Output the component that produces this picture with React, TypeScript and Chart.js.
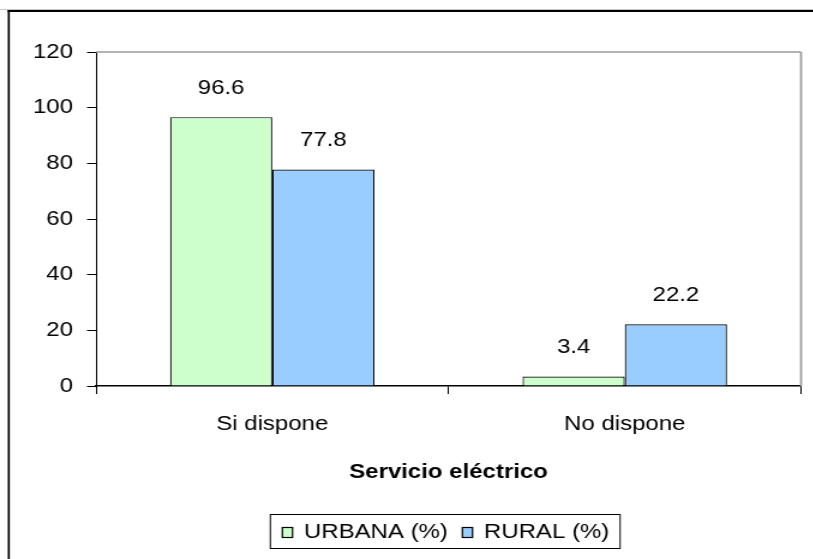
import React, { useEffect, useRef } from "react";
import { Chart, registerables } from "chart.js";

Chart.register(...registerables);

const categories = ["Si dispone", "No dispone"];
const seriesLabels = ["URBANA (%)", "RURAL (%)"];
const urbanaValues = [96.6, 3.4];
const ruralValues = [77.8, 22.2];
const seriesColors = ["#CCFFCC", "#99CCFF"];
const yMin = 0;
const yMax = 120;
const yStep = 20;
const xTitle = "Servicio eléctrico";

const FONT = "'Liberation Sans', Arial, sans-serif";
const STRETCH = 1.2;
const CW = 678;
const CH = 559;

const framePlugin = {
  id: "framePlugin",
  beforeDraw(chart: any) {
    const ctx = chart.ctx;
    ctx.save();
    ctx.fillStyle = "#ffffff";
    ctx.fillRect(0, 0, chart.width, chart.height);
    ctx.strokeStyle = "#c8c8c8";
    ctx.lineWidth = 1;
    ctx.beginPath();
    ctx.moveTo(0, 9.5);
    ctx.lineTo(chart.width, 9.5);
    ctx.stroke();
    ctx.strokeStyle = "#000";
    ctx.lineWidth = 2;
    ctx.beginPath();
    ctx.moveTo(6.3, 11);
    ctx.lineTo(chart.width, 11);
    ctx.stroke();
    ctx.lineWidth = 1.7;
    ctx.beginPath();
    ctx.moveTo(7.3, 10);
    ctx.lineTo(7.3, chart.height);
    ctx.stroke();
    ctx.restore();
  },
  beforeDatasetsDraw(chart: any) {
    const { ctx, chartArea } = chart;
    ctx.save();
    ctx.strokeStyle = "#9a9a9a";
    ctx.lineWidth = 1.5;
    ctx.beginPath();
    ctx.moveTo(chartArea.left, chartArea.top);
    ctx.lineTo(chartArea.right, chartArea.top);
    ctx.stroke();
    ctx.lineWidth = 1.7;
    ctx.beginPath();
    ctx.moveTo(chartArea.right, chartArea.top);
    ctx.lineTo(chartArea.right, chartArea.bottom);
    ctx.stroke();
    ctx.restore();
  },
};

const labelPlugin = {
  id: "labelPlugin",
  afterDatasetsDraw(chart: any) {
    const ctx = chart.ctx;
    ctx.save();
    ctx.font = `20px ${FONT}`;
    ctx.fillStyle = "#000";
    ctx.textAlign = "center";
    ctx.textBaseline = "middle";
    chart.data.datasets.forEach((ds: any, i: number) => {
      const meta = chart.getDatasetMeta(i);
      meta.data.forEach((el: any, j: number) => {
        ctx.fillText(Number(ds.data[j]).toFixed(1), el.x, el.y - 29);
      });
    });
    ctx.restore();
  },
};

const legendPlugin = {
  id: "boxLegend",
  afterDraw(chart: any) {
    const ctx = chart.ctx;
    ctx.save();
    ctx.font = `20px ${FONT}`;
    const ds = chart.data.datasets;
    const padL = 10;
    const sw = 8.5;
    const gap = 9.5;
    const itemGap = 12;
    const padR = 9;
    const widths = ds.map((d: any) => ctx.measureText(d.label).width);
    let total = padL + padR;
    widths.forEach((w: number, i: number) => {
      total += sw + gap + w + (i < widths.length - 1 ? itemGap : 0);
    });
    const cx = 371;
    const top = 514;
    const bottom = 548;
    const left = cx - total / 2;
    ctx.strokeStyle = "#000";
    ctx.lineWidth = 1;
    ctx.fillStyle = "#fff";
    ctx.fillRect(left, top, total, bottom - top);
    ctx.strokeRect(left, top + 0.5, total, bottom - top);
    const my = (top + bottom) / 2 + 1.5;
    let x = left + padL;
    ds.forEach((d: any, i: number) => {
      ctx.fillStyle = d.backgroundColor;
      ctx.fillRect(x, my - 5, sw, 10);
      ctx.lineWidth = 1.2;
      ctx.strokeStyle = "#000";
      ctx.strokeRect(x, my - 5, sw, 10);
      x += sw + gap;
      ctx.fillStyle = "#000";
      ctx.textAlign = "left";
      ctx.textBaseline = "middle";
      ctx.fillText(d.label, x, my);
      x += widths[i] + itemGap;
    });
    ctx.restore();
  },
};

export default function App() {
  const ref = useRef<HTMLCanvasElement | null>(null);
  useEffect(() => {
    const canvas = ref.current;
    if (!canvas) return;
    canvas.width = CW;
    canvas.height = CH;
    const chart = new Chart(canvas, {
      type: "bar",
      data: {
        labels: categories,
        datasets: [
          {
            label: seriesLabels[0],
            data: urbanaValues,
            backgroundColor: seriesColors[0],
            borderColor: "#000",
            borderWidth: 1.2,
            categoryPercentage: 0.58,
            barPercentage: 1,
          },
          {
            label: seriesLabels[1],
            data: ruralValues,
            backgroundColor: seriesColors[1],
            borderColor: "#000",
            borderWidth: 1.2,
            categoryPercentage: 0.58,
            barPercentage: 1,
          },
        ],
      },
      options: {
        responsive: false,
        animation: false,
        devicePixelRatio: 1,
        layout: { padding: { left: 0, right: 10.5, top: 52, bottom: 75 } },
        plugins: {
          legend: { display: false },
          tooltip: { enabled: false },
          title: { display: false },
        },
        scales: {
          x: {
            afterFit: (s: any) => {
              s.height = 98;
            },
            grid: {
              offset: true,
              drawOnChartArea: false,
              drawTicks: true,
              tickLength: 8,
              color: "#000",
              lineWidth: 1,
            },
            border: { display: true, color: "#000", width: 1.5 },
            ticks: {
              color: "#000",
              padding: 18,
              font: { family: FONT, size: 20 },
              maxRotation: 0,
            },
            title: {
              display: true,
              text: xTitle,
              color: "#000",
              padding: 0,
              font: { family: FONT, size: 20, weight: "bold" },
            },
          },
          y: {
            min: yMin,
            max: yMax,
            afterFit: (s: any) => {
              s.width = 80;
            },
            grid: {
              drawOnChartArea: false,
              drawTicks: true,
              tickLength: 7.5,
              color: "#000",
              lineWidth: 1,
            },
            border: { display: true, color: "#000", width: 1 },
            ticks: {
              stepSize: yStep,
              color: "#000",
              padding: 11.7,
              font: { family: FONT, size: 20 },
            },
          },
        },
      },
      plugins: [framePlugin, labelPlugin, legendPlugin],
    });
    return () => chart.destroy();
  }, []);
  return (
    <div
      style={{
        position: "absolute",
        left: 0,
        top: 0,
        width: 813,
        height: 559,
        overflow: "hidden",
        background: "#fff",
      }}
    >
      <canvas
        ref={ref}
        width={CW}
        height={CH}
        style={{
          display: "block",
          transform: `scaleX(${STRETCH})`,
          transformOrigin: "0 0",
        }}
      />
    </div>
  );
}
